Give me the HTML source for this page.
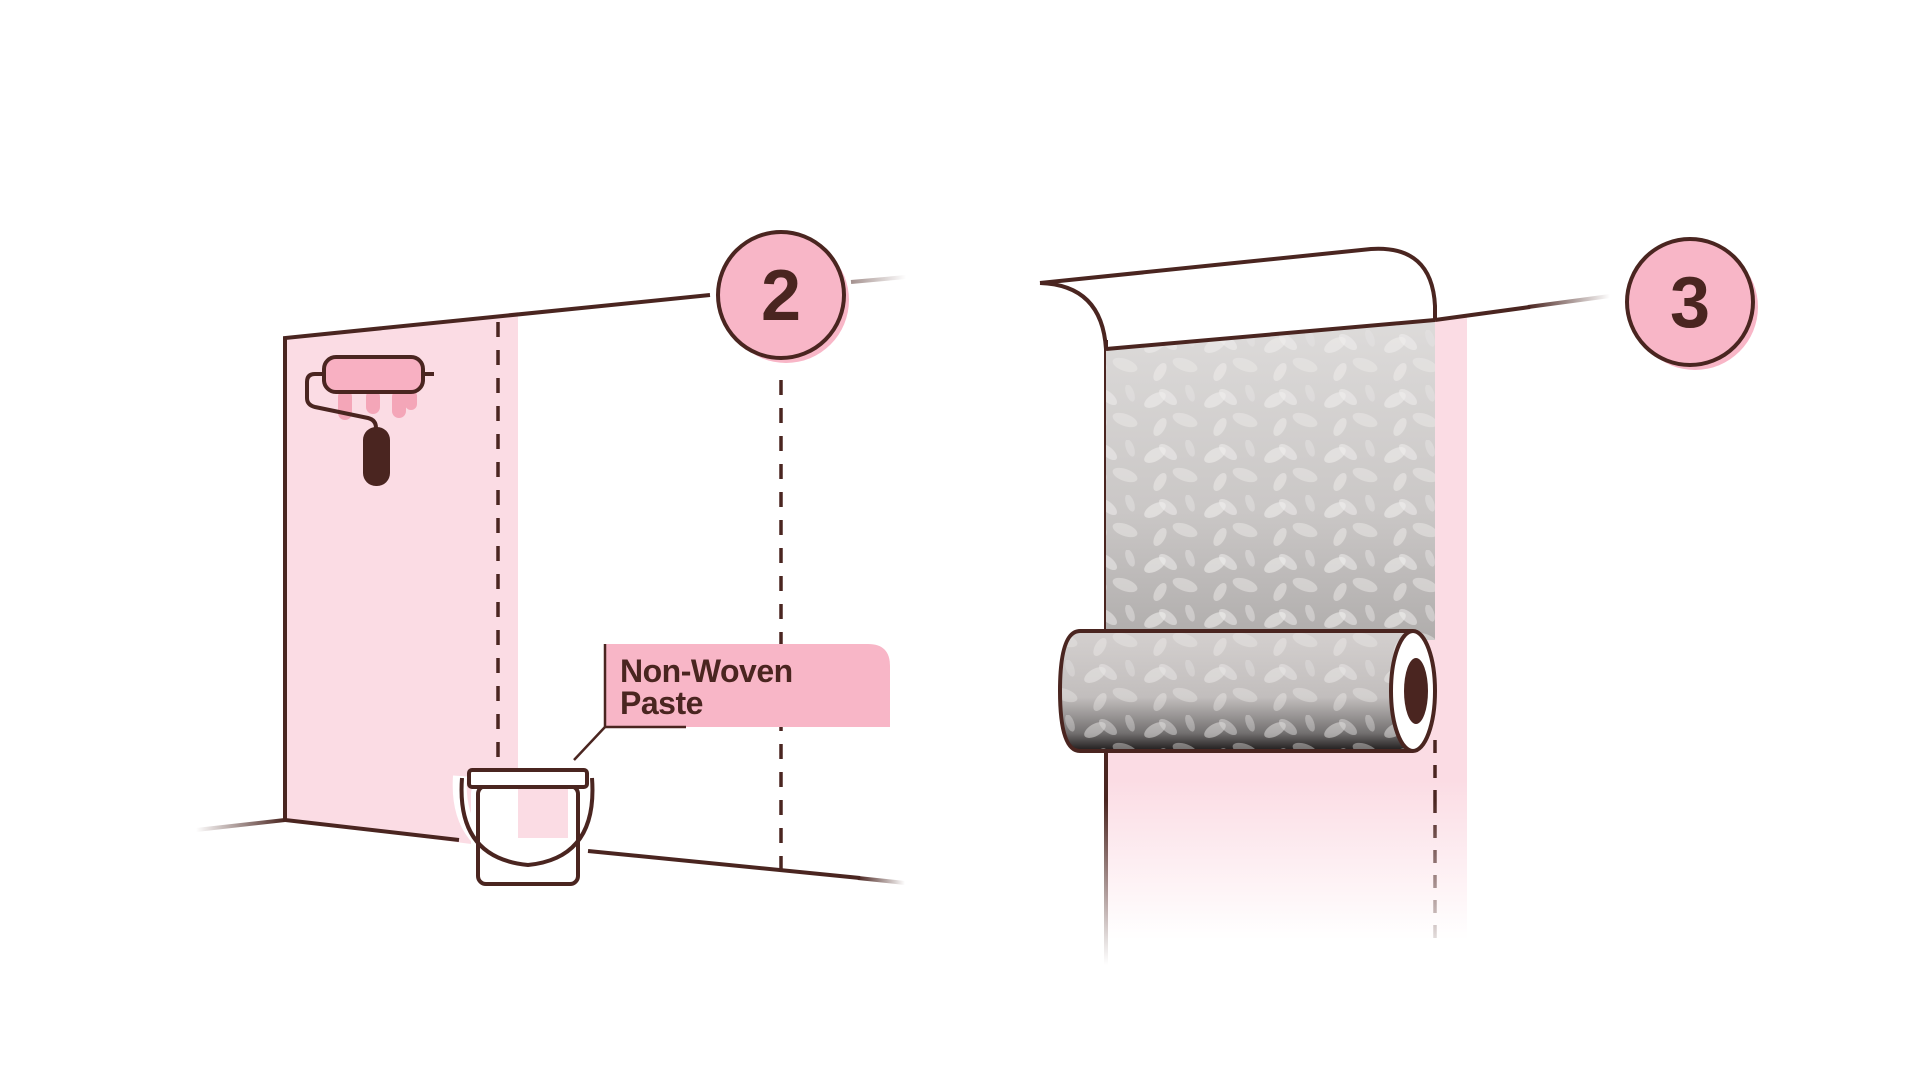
<!DOCTYPE html>
<html><head><meta charset="utf-8"><style>
html,body{margin:0;padding:0;background:#fff;width:1920px;height:1081px;overflow:hidden}
svg{display:block}
</style></head><body>
<svg width="1920" height="1081" viewBox="0 0 1920 1081" xmlns="http://www.w3.org/2000/svg">
<defs>
<linearGradient id="fl" x1="0" x2="1"><stop offset="0" stop-color="#4a2520" stop-opacity="0"/><stop offset="1" stop-color="#4a2520"/></linearGradient>
<linearGradient id="fr" x1="0" x2="1"><stop offset="0" stop-color="#4a2520"/><stop offset="1" stop-color="#4a2520" stop-opacity="0"/></linearGradient>
<linearGradient id="fd" gradientUnits="userSpaceOnUse" x1="0" y1="800" x2="0" y2="965"><stop offset="0" stop-color="#4a2520"/><stop offset="1" stop-color="#4a2520" stop-opacity="0"/></linearGradient>
<linearGradient id="pd" gradientUnits="userSpaceOnUse" x1="0" y1="780" x2="0" y2="940"><stop offset="0" stop-color="#fbdce4"/><stop offset="1" stop-color="#fbdce4" stop-opacity="0"/></linearGradient>
<linearGradient id="paper" x1="0" y1="0" x2="0" y2="1"><stop offset="0" stop-color="#dddbda"/><stop offset="0.6" stop-color="#cac7c6"/><stop offset="1" stop-color="#b0adac"/></linearGradient>
<linearGradient id="roll" x1="0" y1="0" x2="0" y2="1"><stop offset="0" stop-color="#d4d0cf"/><stop offset="0.55" stop-color="#c2bebd"/><stop offset="0.85" stop-color="#737070"/><stop offset="1" stop-color="#1d1a1a"/></linearGradient>
<pattern id="leaf" width="60" height="55" patternUnits="userSpaceOnUse">
<ellipse cx="15" cy="15" rx="12" ry="6" fill="#eeeceb" opacity="0.6" transform="rotate(-30 15 15)"/>
<ellipse cx="28" cy="12" rx="11" ry="5" fill="#f2f0ef" opacity="0.5" transform="rotate(40 28 12)"/>
<ellipse cx="45" cy="35" rx="13" ry="6" fill="#ebe9e8" opacity="0.5" transform="rotate(20 45 35)"/>
<ellipse cx="20" cy="42" rx="10" ry="5" fill="#f4f2f1" opacity="0.45" transform="rotate(-60 20 42)"/>
<ellipse cx="50" cy="8" rx="9" ry="4" fill="#e6e4e3" opacity="0.5" transform="rotate(70 50 8)"/>
</pattern>
</defs>

<!-- LEFT SCENE -->
<polygon points="285,338 518,312 518,850 285,820" fill="#fbdce4"/>
<line x1="196" y1="830" x2="285" y2="820" stroke="url(#fl)" stroke-width="4"/>
<polyline points="710,295 285,338 285,820 459,840" fill="none" stroke="#4a2520" stroke-width="4"/>
<line x1="588" y1="851" x2="860" y2="878" stroke="#4a2520" stroke-width="4"/>
<line x1="858" y1="878" x2="905" y2="883" stroke="url(#fr)" stroke-width="4"/>
<line x1="851" y1="282" x2="906" y2="277" stroke="url(#fr)" stroke-width="4" opacity="0.5"/>
<line x1="498" y1="322" x2="498" y2="759" stroke="#4a2520" stroke-width="3.5" stroke-dasharray="15,13"/>
<line x1="781" y1="380" x2="781" y2="872" stroke="#4a2520" stroke-width="3.5" stroke-dasharray="15,13"/>

<!-- circle 2 -->
<circle cx="786" cy="300" r="63" fill="#f8b6c7"/>
<circle cx="781" cy="295" r="63" fill="#f8b6c7" stroke="#4a2520" stroke-width="4"/>
<text x="781" y="320" text-anchor="middle" font-family="Liberation Sans, sans-serif" font-weight="bold" font-size="72" fill="#4a2520">2</text>

<!-- roller -->
<rect x="338" y="390" width="14" height="30" rx="7" fill="#f4a6b8"/>
<rect x="366" y="390" width="14" height="24" rx="7" fill="#f4a6b8"/>
<rect x="392" y="390" width="14" height="28" rx="7" fill="#f4a6b8"/>
<rect x="405" y="390" width="12" height="20" rx="6" fill="#f4a6b8"/>
<rect x="324" y="357" width="99" height="35" rx="12" fill="#f8b0c2" stroke="#4a2520" stroke-width="4"/>
<line x1="423" y1="374" x2="434" y2="374" stroke="#4a2520" stroke-width="4"/>
<path d="M324,374 L315,374 Q307,374 307,382 L307,398 Q307,405 315,407 L368,418 Q376,420 376,428" fill="none" stroke="#4a2520" stroke-width="4"/>
<rect x="363" y="427" width="27" height="59" rx="13" fill="#4a2520"/>

<!-- label -->
<path d="M605,644 L868,644 Q890,644 890,666 L890,727 L605,727 Z" fill="#f8b6c7"/>
<line x1="605" y1="644" x2="605" y2="727" stroke="#4a2520" stroke-width="2.5"/>
<line x1="605" y1="727" x2="686" y2="727" stroke="#4a2520" stroke-width="2.5"/>
<line x1="605" y1="727" x2="574" y2="760" stroke="#4a2520" stroke-width="2.5"/>
<text font-family="Liberation Sans, sans-serif" font-weight="bold" font-size="32" fill="#4a2520" letter-spacing="-0.5"><tspan x="620" y="682">Non-Woven</tspan><tspan x="620" y="714">Paste</tspan></text>

<!-- bucket -->
<path d="M460,776 Q455,850 528,862 Q598,850 592,776" fill="none" stroke="#fff" stroke-width="14"/>
<rect x="478" y="786" width="100" height="98" rx="8" fill="#fff" stroke="#fff" stroke-width="14"/>
<rect x="518" y="786" width="50" height="52" fill="#fbdce4"/>
<rect x="478" y="786" width="100" height="98" rx="8" fill="none" stroke="#4a2520" stroke-width="4"/>
<path d="M462,778 Q456,858 528,865 Q598,858 592,778" fill="none" stroke="#4a2520" stroke-width="4"/>
<rect x="469" y="770" width="118" height="17" rx="3" fill="#fff" stroke="#4a2520" stroke-width="4"/>

<!-- RIGHT SCENE -->
<polygon points="1106,349 1467,317 1467,780 1106,780" fill="#fbdce4"/>
<rect x="1106" y="780" width="361" height="160" fill="url(#pd)"/>
<line x1="1106" y1="340" x2="1106" y2="800" stroke="#4a2520" stroke-width="4"/>
<line x1="1106" y1="798" x2="1106" y2="965" stroke="url(#fd)" stroke-width="4"/>
<line x1="1435" y1="740" x2="1435" y2="800" stroke="#4a2520" stroke-width="3.5" stroke-dasharray="13,12"/>
<line x1="1435" y1="800" x2="1435" y2="950" stroke="url(#fd)" stroke-width="3.5" stroke-dasharray="13,12"/>

<!-- paper strip -->
<polygon points="1106,349 1435,320 1435,640 1106,640" fill="url(#paper)"/>
<polygon points="1106,349 1435,320 1435,640 1106,640" fill="url(#leaf)"/>
<line x1="1106" y1="349" x2="1435" y2="320" stroke="#4a2520" stroke-width="4"/>
<line x1="1435" y1="320" x2="1530" y2="307" stroke="#4a2520" stroke-width="4"/>
<line x1="1528" y1="307" x2="1610" y2="296" stroke="url(#fr)" stroke-width="4"/>
<path d="M1040,283 L1371,249 Q1432,245 1435,306 L1435,320" fill="none" stroke="#4a2520" stroke-width="4"/>
<path d="M1040,283 Q1102,285 1106,349" fill="none" stroke="#4a2520" stroke-width="4"/>

<!-- roll -->
<path d="M1080,631 L1413,631 L1413,751 L1080,751 Q1060,751 1060,691 Q1060,631 1080,631 Z" fill="url(#roll)"/>
<path d="M1080,631 L1413,631 L1413,751 L1080,751 Q1060,751 1060,691 Q1060,631 1080,631 Z" fill="url(#leaf)" opacity="0.8"/>
<path d="M1080,631 L1413,631 M1413,751 L1080,751 Q1060,751 1060,691 Q1060,631 1080,631" fill="none" stroke="#4a2520" stroke-width="4"/>
<ellipse cx="1413" cy="691" rx="22" ry="60" fill="#fff" stroke="#4a2520" stroke-width="4"/>
<ellipse cx="1416" cy="691" rx="12" ry="33" fill="#4a2520"/>

<!-- circle 3 -->
<circle cx="1695" cy="307" r="63" fill="#f8b6c7"/>
<circle cx="1690" cy="302" r="63" fill="#f8b6c7" stroke="#4a2520" stroke-width="4"/>
<text x="1690" y="327" text-anchor="middle" font-family="Liberation Sans, sans-serif" font-weight="bold" font-size="72" fill="#4a2520">3</text>
</svg>
</body></html>
